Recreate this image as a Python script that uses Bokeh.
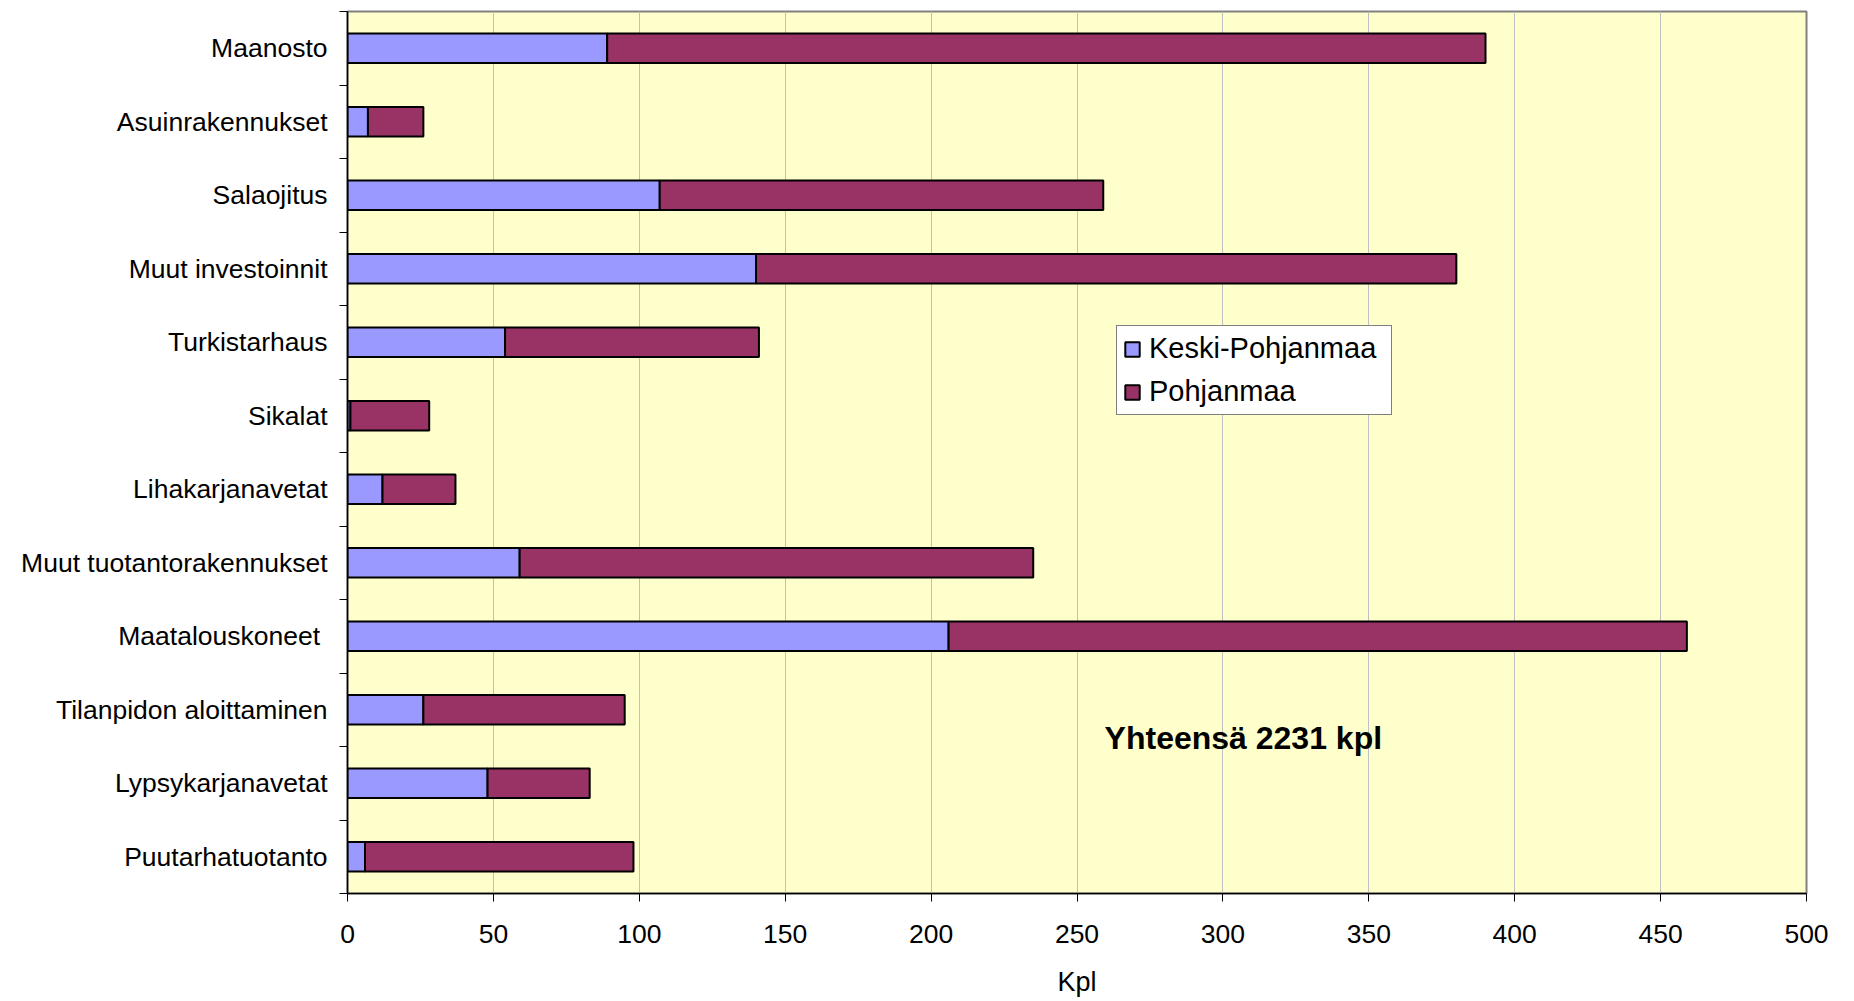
from bokeh.plotting import figure
from bokeh.models import ColumnDataSource, FixedTicker, Range1d, Legend, LegendItem, Label
from bokeh.embed import file_html
from bokeh.resources import INLINE

categories = ["Maanosto", "Asuinrakennukset", "Salaojitus", "Muut investoinnit",
              "Turkistarhaus", "Sikalat", "Lihakarjanavetat", "Muut tuotantorakennukset",
              "Maatalouskoneet ", "Tilanpidon aloittaminen", "Lypsykarjanavetat",
              "Puutarhatuotanto"]
keski_pohjanmaa = [89, 7, 107, 140, 54, 1, 12, 59, 206, 26, 48, 6]
pohjanmaa = [301, 19, 152, 240, 87, 27, 25, 176, 253, 69, 35, 92]
x_ticks = [0, 50, 100, 150, 200, 250, 300, 350, 400, 450, 500]
series_names = ["Keski-Pohjanmaa", "Pohjanmaa"]
x_title = "Kpl"
total_text = "Yhteensä 2231 kpl"

n = len(categories)
ypos = [n - i - 0.5 for i in range(n)]
totals = [a + b for a, b in zip(keski_pohjanmaa, pohjanmaa)]
src = ColumnDataSource(dict(y=ypos, kp=keski_pohjanmaa, tot=totals,
                            zero=[0] * n, cat=categories))

FONT = "Liberation Sans"
FS = "26.5px"

p = figure(width=1838, height=1000, x_range=Range1d(0, 500), y_range=Range1d(0, n),
           output_backend="svg", toolbar_location=None,
           min_border_left=347, min_border_right=32, min_border_top=11, min_border_bottom=107)
p.background_fill_color = "#FFFFCC"
p.border_fill_color = "white"
p.outline_line_color = "#808080"
p.outline_line_width = 2

r1 = p.hbar(y="y", left="zero", right="kp", height=0.4, source=src,
            fill_color="#9999FF", line_color="black", line_width=2)
r2 = p.hbar(y="y", left="kp", right="tot", height=0.4, source=src,
            fill_color="#993366", line_color="black", line_width=2)

# x axis
p.xaxis.ticker = FixedTicker(ticks=x_ticks)
p.xaxis.major_tick_out = 8
p.xaxis.major_tick_in = 0
p.xaxis.minor_tick_out = 0
p.xaxis.minor_tick_in = 0
p.xaxis.major_tick_line_color = "black"
p.xaxis.axis_line_color = "black"
p.xaxis.axis_line_width = 1.5
p.xaxis.major_label_text_font = FONT
p.xaxis.major_label_text_font_size = FS
p.xaxis.major_label_text_color = "black"
p.xaxis.major_label_standoff = 23
p.xaxis.axis_label = x_title
p.xaxis.axis_label_text_font = FONT
p.xaxis.axis_label_text_font_size = "27px"
p.xaxis.axis_label_text_font_style = "normal"
p.xaxis.axis_label_text_color = "black"
p.xaxis.axis_label_standoff = 21

# y axis: labels at category centres, ticks at category boundaries
p.yaxis.ticker = FixedTicker(ticks=ypos, minor_ticks=list(range(n + 1)))
p.yaxis.major_label_overrides = {y: c for y, c in zip(ypos, categories)}
p.yaxis.major_tick_out = 0
p.yaxis.major_tick_in = 0
p.yaxis.minor_tick_out = 8
p.yaxis.minor_tick_in = 0
p.yaxis.minor_tick_line_color = "black"
p.yaxis.axis_line_color = "black"
p.yaxis.axis_line_width = 1.5
p.yaxis.major_label_text_font = FONT
p.yaxis.major_label_text_font_size = FS
p.yaxis.major_label_text_color = "black"
p.yaxis.major_label_standoff = 12

p.xgrid.ticker = FixedTicker(ticks=x_ticks)
p.xgrid.grid_line_color = "#C0C0C0"
p.xgrid.grid_line_width = 1
p.ygrid.visible = False

legend = Legend(items=[LegendItem(label=series_names[0], renderers=[r1]),
                       LegendItem(label=series_names[1], renderers=[r2])],
                location=(769, 478), orientation="vertical")
legend.label_text_font = FONT
legend.label_text_font_size = "29px"
legend.label_text_color = "black"
legend.glyph_width = 18
legend.glyph_height = 18
legend.label_standoff = 8
legend.label_width = 236
legend.padding = 6
legend.spacing = 10
legend.margin = 0
legend.border_line_color = "black"
legend.border_line_width = 1
legend.background_fill_color = "white"
legend.background_fill_alpha = 1
p.add_layout(legend)

p.add_layout(Label(x=307, y=2.11, text=total_text, text_font=FONT,
                   text_font_size="32px", text_font_style="bold",
                   text_align="center", text_baseline="middle", text_color="black"))

open("out.html", "w").write(file_html(p, INLINE))
